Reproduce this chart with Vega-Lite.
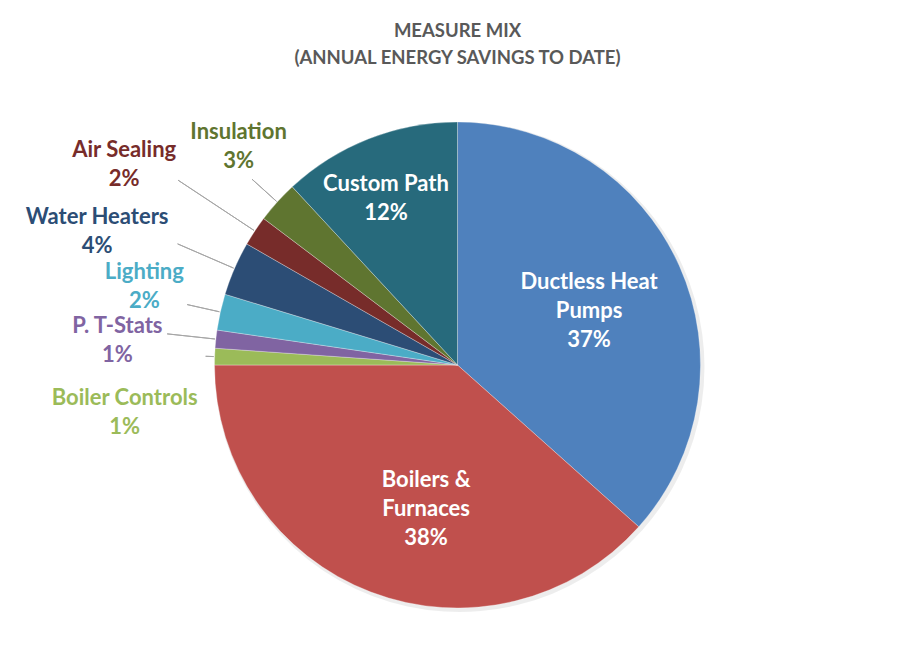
{
  "$schema": "https://vega.github.io/schema/vega-lite/v6.json",
  "width": 895,
  "height": 652,
  "autosize": {"type": "none"},
  "padding": {"left": 4, "top": 6, "right": 0, "bottom": 0},
  "background": "white",
  "title": {
    "text": ["MEASURE MIX", "(ANNUAL ENERGY SAVINGS TO DATE)"],
    "anchor": "middle",
    "font": "Lato",
    "fontSize": 18.5,
    "fontWeight": "bold",
    "color": "#595959",
    "lineHeight": 27,
    "baseline": "top",
    "offset": 0,
    "dx": 6,
    "dy": 77
  },
  "data": {
    "values": [
      {"idx": 1, "measure": "Ductless Heat Pumps", "wrapped": "Ductless Heat\nPumps", "share": 36.6},
      {"idx": 2, "measure": "Boilers & Furnaces", "wrapped": "Boilers &\nFurnaces", "share": 38.4},
      {"idx": 3, "measure": "Boiler Controls", "wrapped": "Boiler Controls", "share": 1.1},
      {"idx": 4, "measure": "P. T-Stats", "wrapped": "P. T-Stats", "share": 1.2},
      {"idx": 5, "measure": "Lighting", "wrapped": "Lighting", "share": 2.4},
      {"idx": 6, "measure": "Water Heaters", "wrapped": "Water Heaters", "share": 3.6},
      {"idx": 7, "measure": "Air Sealing", "wrapped": "Air Sealing", "share": 2.0},
      {"idx": 8, "measure": "Insulation", "wrapped": "Insulation", "share": 2.8},
      {"idx": 9, "measure": "Custom Path", "wrapped": "Custom Path", "share": 11.9}
    ]
  },
  "transform": [
    {"calculate": "datum.wrapped + '\\n' + format(datum.share / 100, '.0%')", "as": "label"},
    {"window": [{"op": "sum", "field": "share", "as": "cum"}], "sort": [{"field": "idx", "order": "ascending"}], "frame": [null, 0]},
    {"calculate": "datum.cum - datum.share / 2", "as": "mid"}
  ],
  "encoding": {
    "theta": {"field": "share", "type": "quantitative", "stack": true},
    "order": {"field": "idx", "type": "quantitative"},
    "color": {
      "field": "measure",
      "type": "nominal",
      "legend": null,
      "scale": {
        "domain": ["Ductless Heat Pumps", "Boilers & Furnaces", "Boiler Controls", "P. T-Stats", "Lighting", "Water Heaters", "Air Sealing", "Insulation", "Custom Path"],
        "range": ["#4F81BD", "#C0504D", "#9BBB59", "#8064A2", "#4BACC6", "#2C4D75", "#772C2A", "#5F7530", "#276A7C"]
      }
    }
  },
  "layer": [
    {
      "mark": {"type": "arc", "outerRadius": 245, "xOffset": 8, "yOffset": 35, "fill": "#000000", "fillOpacity": 0.07, "strokeWidth": 0}
    },
    {
      "mark": {"type": "arc", "outerRadius": 243, "stroke": "#ffffff", "strokeWidth": 0.5, "strokeOpacity": 0.6, "xOffset": 6, "yOffset": 33}
    },
    {
      "transform": [{"filter": {"field": "measure", "equal": "Boiler Controls"}}],
      "mark": {"type": "arc", "fill": null, "filled": false, "stroke": "#a6a6a6", "strokeWidth": 1, "innerRadius": 244, "outerRadius": 252, "xOffset": 6, "yOffset": 33},
      "encoding": {"theta": {"field": "mid", "type": "quantitative", "stack": null}, "theta2": {"field": "mid"}, "color": {"value": "#a6a6a6"}}
    },
    {
      "transform": [{"filter": {"field": "measure", "oneOf": ["Lighting", "Insulation"]}}],
      "mark": {"type": "arc", "fill": null, "filled": false, "stroke": "#a6a6a6", "strokeWidth": 1, "innerRadius": 244, "outerRadius": 277, "xOffset": 6, "yOffset": 33},
      "encoding": {"theta": {"field": "mid", "type": "quantitative", "stack": null}, "theta2": {"field": "mid"}, "color": {"value": "#a6a6a6"}}
    },
    {
      "transform": [{"filter": {"field": "measure", "equal": "P. T-Stats"}}],
      "mark": {"type": "arc", "fill": null, "filled": false, "stroke": "#a6a6a6", "strokeWidth": 1, "innerRadius": 244, "outerRadius": 292, "xOffset": 6, "yOffset": 33},
      "encoding": {"theta": {"field": "mid", "type": "quantitative", "stack": null}, "theta2": {"field": "mid"}, "color": {"value": "#a6a6a6"}}
    },
    {
      "transform": [{"filter": {"field": "measure", "equal": "Water Heaters"}}],
      "mark": {"type": "arc", "fill": null, "filled": false, "stroke": "#a6a6a6", "strokeWidth": 1, "innerRadius": 244, "outerRadius": 305, "xOffset": 6, "yOffset": 33},
      "encoding": {"theta": {"field": "mid", "type": "quantitative", "stack": null}, "theta2": {"field": "mid"}, "color": {"value": "#a6a6a6"}}
    },
    {
      "transform": [{"filter": {"field": "measure", "equal": "Air Sealing"}}],
      "mark": {"type": "arc", "fill": null, "filled": false, "stroke": "#a6a6a6", "strokeWidth": 1, "innerRadius": 244, "outerRadius": 335, "xOffset": 6, "yOffset": 33},
      "encoding": {"theta": {"field": "mid", "type": "quantitative", "stack": null}, "theta2": {"field": "mid"}, "color": {"value": "#a6a6a6"}}
    },
    {
      "mark": {"type": "text", "font": "Lato", "fontSize": 22, "fontWeight": "bold", "lineBreak": "\n", "lineHeight": 29, "align": "center", "baseline": "middle", "fill": "#ffffff", "radius": 142, "xOffset": 6, "yOffset": 33, "dx": 2, "dy": -25},
      "encoding": {"text": {"condition": {"test": "datum.measure === 'Ductless Heat Pumps'", "field": "label"}, "value": ""}}
    },
    {
      "mark": {"type": "text", "font": "Lato", "fontSize": 22, "fontWeight": "bold", "lineBreak": "\n", "lineHeight": 29, "align": "center", "baseline": "middle", "fill": "#ffffff", "radius": 147, "xOffset": 6, "yOffset": 33, "dx": 21, "dy": -22},
      "encoding": {"text": {"condition": {"test": "datum.measure === 'Boilers & Furnaces'", "field": "label"}, "value": ""}}
    },
    {
      "mark": {"type": "text", "font": "Lato", "fontSize": 22, "fontWeight": "bold", "lineBreak": "\n", "lineHeight": 29, "align": "center", "baseline": "middle", "fill": "#ffffff", "radius": 182, "xOffset": 6, "yOffset": 33, "dx": -5, "dy": -12},
      "encoding": {"text": {"condition": {"test": "datum.measure === 'Custom Path'", "field": "label"}, "value": ""}}
    },
    {
      "mark": {"type": "text", "font": "Lato", "fontSize": 22, "fontWeight": "bold", "lineBreak": "\n", "lineHeight": 29, "align": "center", "baseline": "middle", "radius": 310, "xOffset": 6, "yOffset": 33, "dx": 11, "dy": -25.5},
      "encoding": {"text": {"condition": {"test": "datum.measure === 'Insulation'", "field": "label"}, "value": ""}}
    },
    {
      "mark": {"type": "text", "font": "Lato", "fontSize": 22, "fontWeight": "bold", "lineBreak": "\n", "lineHeight": 29, "align": "center", "baseline": "middle", "radius": 390, "xOffset": 6, "yOffset": 33, "dx": -8, "dy": 0},
      "encoding": {"text": {"condition": {"test": "datum.measure === 'Air Sealing'", "field": "label"}, "value": ""}}
    },
    {
      "mark": {"type": "text", "font": "Lato", "fontSize": 22, "fontWeight": "bold", "lineBreak": "\n", "lineHeight": 29, "align": "center", "baseline": "middle", "radius": 385, "xOffset": 6, "yOffset": 33, "dx": -7, "dy": 4.5},
      "encoding": {"text": {"condition": {"test": "datum.measure === 'Water Heaters'", "field": "label"}, "value": ""}}
    },
    {
      "mark": {"type": "text", "font": "Lato", "fontSize": 22, "fontWeight": "bold", "lineBreak": "\n", "lineHeight": 29, "align": "center", "baseline": "middle", "radius": 323, "xOffset": 6, "yOffset": 33, "dx": 2, "dy": -22.5},
      "encoding": {"text": {"condition": {"test": "datum.measure === 'Lighting'", "field": "label"}, "value": ""}}
    },
    {
      "mark": {"type": "text", "font": "Lato", "fontSize": 22, "fontWeight": "bold", "lineBreak": "\n", "lineHeight": 29, "align": "center", "baseline": "middle", "radius": 341, "xOffset": 6, "yOffset": 33, "dx": -1, "dy": -2.5},
      "encoding": {"text": {"condition": {"test": "datum.measure === 'P. T-Stats'", "field": "label"}, "value": ""}}
    },
    {
      "mark": {"type": "text", "font": "Lato", "fontSize": 22, "fontWeight": "bold", "lineBreak": "\n", "lineHeight": 29, "align": "center", "baseline": "middle", "radius": 336, "xOffset": 6, "yOffset": 33, "dx": 3, "dy": 45},
      "encoding": {"text": {"condition": {"test": "datum.measure === 'Boiler Controls'", "field": "label"}, "value": ""}}
    }
  ],
  "config": {
    "view": {"stroke": "#d9d9d9", "strokeWidth": 1}
  }
}
